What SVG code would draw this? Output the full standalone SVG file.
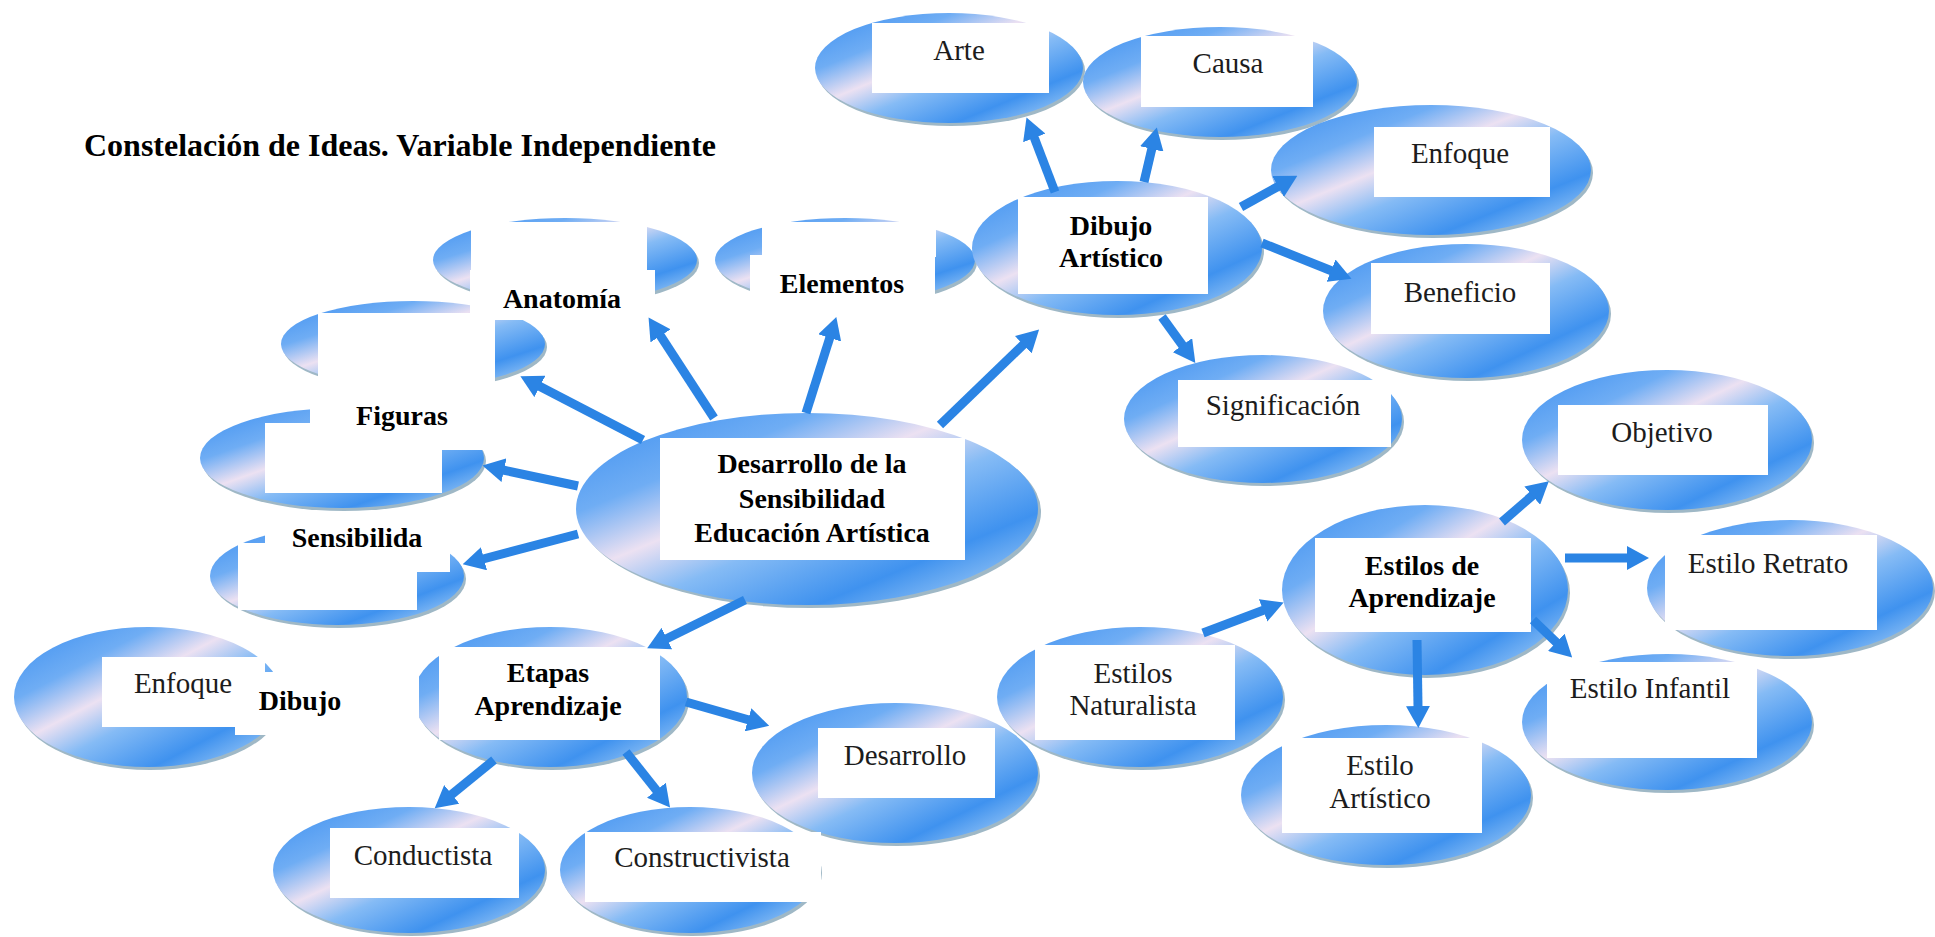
<svg xmlns="http://www.w3.org/2000/svg" width="1935" height="937" viewBox="0 0 1935 937">
<defs>
<linearGradient id="g" x1="0" y1="0" x2="1" y2="1">
<stop offset="0" stop-color="#3a8ef0"/>
<stop offset="0.26" stop-color="#6fadf4"/>
<stop offset="0.42" stop-color="#ece1f2"/>
<stop offset="0.56" stop-color="#85bbf5"/>
<stop offset="0.76" stop-color="#3f92ef"/>
<stop offset="0.9" stop-color="#8ec0f4"/>
<stop offset="1" stop-color="#dfe7f4"/>
</linearGradient>
<marker id="ah" markerUnits="userSpaceOnUse" markerWidth="22" markerHeight="24" viewBox="0 0 22 24" refX="1" refY="12" orient="auto">
<path d="M0,0 L22,12 L0,24 z" fill="#2b84e4"/>
</marker>
</defs>
<style>
.ell{fill:url(#g);}
.rim{fill:#9fb8c6;}
.box{fill:#ffffff;}
.t{font-family:"Liberation Serif","Times New Roman",serif;font-size:29px;fill:#1c1c1c;text-anchor:middle;}
.b{font-weight:bold;font-size:28px;fill:#000;}
.arrow{stroke:#2b84e4;stroke-width:9;fill:none;marker-end:url(#ah);}
</style>
<rect width="1935" height="937" fill="#ffffff"/>
<text x="84" y="156" font-family="Liberation Serif, Times New Roman, serif" font-size="32" font-weight="bold" fill="#000" textLength="632" lengthAdjust="spacingAndGlyphs">Constelación de Ideas. Variable Independiente</text>

<g id="n-sensibilida">
<ellipse class="rim" cx="339" cy="579" rx="127" ry="49"/>
<ellipse class="ell" cx="337" cy="576" rx="127" ry="49"/>
<rect class="box" x="238" y="543" width="179" height="67"/>
<rect class="box" x="265" y="515" width="185" height="57"/>
<text class="t b" x="357" y="547">Sensibilida</text>
</g>
<g id="n-tercero">
<ellipse class="rim" cx="344" cy="461" rx="142" ry="50"/>
<ellipse class="ell" cx="342" cy="458" rx="142" ry="50"/>
<rect class="box" x="265" y="423" width="177" height="70"/>
</g>
<g id="n-figuras">
<ellipse class="rim" cx="415" cy="347" rx="132" ry="43"/>
<ellipse class="ell" cx="413" cy="344" rx="132" ry="43"/>
<rect class="box" x="318" y="313" width="177" height="72"/>
<rect class="box" x="310" y="385" width="185" height="65"/>
<text class="t b" x="402" y="425">Figuras</text>
</g>
<g id="n-anatomia">
<ellipse class="rim" cx="567" cy="263" rx="132" ry="42"/>
<ellipse class="ell" cx="565" cy="260" rx="132" ry="42"/>
<rect class="box" x="471" y="222" width="176" height="48"/>
<rect class="box" x="470" y="270" width="185" height="50"/>
<text class="t b" x="562" y="308">Anatomía</text>
</g>
<g id="n-elementos">
<ellipse class="rim" cx="847" cy="263" rx="130" ry="42"/>
<ellipse class="ell" cx="845" cy="260" rx="130" ry="42"/>
<rect class="box" x="762" y="222" width="174" height="35"/>
<rect class="box" x="750" y="255" width="185" height="65"/>
<text class="t b" x="842" y="293">Elementos</text>
</g>
<g id="n-central">
<ellipse class="rim" cx="810" cy="512" rx="231" ry="96"/>
<ellipse class="ell" cx="807" cy="509" rx="231" ry="96"/>
<rect class="box" x="660" y="438" width="305" height="122"/>
<text class="t b" x="812" y="473">Desarrollo de la</text>
<text class="t b" x="812" y="508">Sensibilidad</text>
<text class="t b" x="812" y="542">Educación Artística</text>
</g>
<g id="n-arte">
<ellipse class="rim" cx="951" cy="71" rx="134" ry="55"/>
<ellipse class="ell" cx="949" cy="68" rx="134" ry="55"/>
<rect class="box" x="872" y="23" width="177" height="70"/>
<text class="t" x="959" y="60">Arte</text>
</g>
<g id="n-causa">
<ellipse class="rim" cx="1222" cy="85" rx="137" ry="55"/>
<ellipse class="ell" cx="1220" cy="82" rx="137" ry="55"/>
<rect class="box" x="1141" y="36" width="172" height="71"/>
<text class="t" x="1228" y="73">Causa</text>
</g>
<g id="n-enfoque-der">
<ellipse class="rim" cx="1433" cy="173" rx="160" ry="65"/>
<ellipse class="ell" cx="1431" cy="170" rx="160" ry="65"/>
<rect class="box" x="1374" y="127" width="176" height="70"/>
<text class="t" x="1460" y="163">Enfoque</text>
</g>
<g id="n-beneficio">
<ellipse class="rim" cx="1468" cy="314" rx="143" ry="67"/>
<ellipse class="ell" cx="1466" cy="311" rx="143" ry="67"/>
<rect class="box" x="1371" y="263" width="179" height="71"/>
<text class="t" x="1460" y="302">Beneficio</text>
</g>
<g id="n-dibujo-artistico">
<ellipse class="rim" cx="1119" cy="251" rx="145" ry="67"/>
<ellipse class="ell" cx="1117" cy="248" rx="145" ry="67"/>
<rect class="box" x="1018" y="197" width="190" height="97"/>
<text class="t b" x="1111" y="235">Dibujo</text>
<text class="t b" x="1111" y="267">Artístico</text>
</g>
<g id="n-significacion">
<ellipse class="rim" cx="1265" cy="422" rx="139" ry="64"/>
<ellipse class="ell" cx="1263" cy="419" rx="139" ry="64"/>
<rect class="box" x="1178" y="380" width="213" height="67"/>
<text class="t" x="1283" y="415">Significación</text>
</g>
<g id="n-objetivo">
<ellipse class="rim" cx="1669" cy="443" rx="145" ry="70"/>
<ellipse class="ell" cx="1667" cy="440" rx="145" ry="70"/>
<rect class="box" x="1558" y="405" width="210" height="70"/>
<text class="t" x="1662" y="442">Objetivo</text>
</g>
<g id="n-estilos-aprendizaje">
<ellipse class="rim" cx="1427" cy="593" rx="143" ry="85"/>
<ellipse class="ell" cx="1425" cy="590" rx="143" ry="85"/>
<rect class="box" x="1315" y="538" width="216" height="94"/>
<text class="t b" x="1422" y="575">Estilos de</text>
<text class="t b" x="1422" y="607">Aprendizaje</text>
</g>
<g id="n-retrato">
<ellipse class="rim" cx="1792" cy="591" rx="143" ry="68"/>
<ellipse class="ell" cx="1790" cy="588" rx="143" ry="68"/>
<rect class="box" x="1665" y="535" width="212" height="95"/>
<text class="t" x="1768" y="573">Estilo Retrato</text>
</g>
<g id="n-infantil">
<ellipse class="rim" cx="1669" cy="725" rx="145" ry="68"/>
<ellipse class="ell" cx="1667" cy="722" rx="145" ry="68"/>
<rect class="box" x="1547" y="662" width="210" height="96"/>
<text class="t" x="1650" y="698">Estilo Infantil</text>
</g>
<g id="n-artistico">
<ellipse class="rim" cx="1388" cy="798" rx="145" ry="70"/>
<ellipse class="ell" cx="1386" cy="795" rx="145" ry="70"/>
<rect class="box" x="1282" y="738" width="200" height="95"/>
<text class="t" x="1380" y="775">Estilo</text>
<text class="t" x="1380" y="808">Artístico</text>
</g>
<g id="n-naturalista">
<ellipse class="rim" cx="1142" cy="700" rx="143" ry="70"/>
<ellipse class="ell" cx="1140" cy="697" rx="143" ry="70"/>
<rect class="box" x="1035" y="645" width="200" height="95"/>
<text class="t" x="1133" y="683">Estilos</text>
<text class="t" x="1133" y="715">Naturalista</text>
</g>
<g id="n-desarrollo">
<ellipse class="rim" cx="897" cy="776" rx="143" ry="70"/>
<ellipse class="ell" cx="895" cy="773" rx="143" ry="70"/>
<rect class="box" x="818" y="728" width="177" height="70"/>
<text class="t" x="905" y="765">Desarrollo</text>
</g>
<g id="n-etapas">
<ellipse class="rim" cx="552" cy="700" rx="137" ry="70"/>
<ellipse class="ell" cx="550" cy="697" rx="137" ry="70"/>
<rect class="box" x="439" y="647" width="221" height="93"/>
<text class="t b" x="548" y="682">Etapas</text>
<text class="t b" x="548" y="715">Aprendizaje</text>
</g>
<g id="n-conductista">
<ellipse class="rim" cx="411" cy="873" rx="136" ry="63"/>
<ellipse class="ell" cx="409" cy="870" rx="136" ry="63"/>
<rect class="box" x="330" y="828" width="189" height="70"/>
<text class="t" x="423" y="865">Conductista</text>
</g>
<g id="n-constructivista">
<ellipse class="rim" cx="692" cy="873" rx="130" ry="63"/>
<ellipse class="ell" cx="690" cy="870" rx="130" ry="63"/>
<rect class="box" x="585" y="832" width="236" height="70"/>
<text class="t" x="702" y="867">Constructivista</text>
</g>
<g id="n-enfoque-izq">
<ellipse class="rim" cx="150" cy="700" rx="134" ry="70"/>
<ellipse class="ell" cx="148" cy="697" rx="134" ry="70"/>
<rect class="box" x="102" y="657" width="163" height="70"/>
<text class="t" x="183" y="693">Enfoque</text>
</g>
<g id="n-dibujo">
<rect class="box" x="235" y="672" width="184" height="63"/>
<text class="t b" x="300" y="710">Dibujo</text>
</g>

<g id="connectors">
<line class="arrow" x1="714" y1="418" x2="660" y2="335"/>
<line class="arrow" x1="806" y1="413" x2="830" y2="337"/>
<line class="arrow" x1="940" y1="425" x2="1024" y2="344"/>
<line class="arrow" x1="643" y1="440" x2="539" y2="386"/>
<line class="arrow" x1="578" y1="486" x2="503" y2="470"/>
<line class="arrow" x1="578" y1="534" x2="483" y2="559"/>
<line class="arrow" x1="745" y1="600" x2="666" y2="639"/>
<line class="arrow" x1="1055" y1="192" x2="1034" y2="137"/>
<line class="arrow" x1="1144" y1="182" x2="1152" y2="148"/>
<line class="arrow" x1="1241" y1="207" x2="1279" y2="186"/>
<line class="arrow" x1="1262" y1="243" x2="1332" y2="271"/>
<line class="arrow" x1="1162" y1="317" x2="1183" y2="346"/>
<line class="arrow" x1="494" y1="760" x2="451" y2="795"/>
<line class="arrow" x1="626" y1="752" x2="657" y2="791"/>
<line class="arrow" x1="686" y1="702" x2="749" y2="720"/>
<line class="arrow" x1="1203" y1="633" x2="1264" y2="610"/>
<line class="arrow" x1="1502" y1="522" x2="1533" y2="495"/>
<line class="arrow" x1="1565" y1="558" x2="1628" y2="558"/>
<line class="arrow" x1="1533" y1="620" x2="1557" y2="643"/>
<line class="arrow" x1="1417" y1="640" x2="1418" y2="707"/>
</g>
</svg>
